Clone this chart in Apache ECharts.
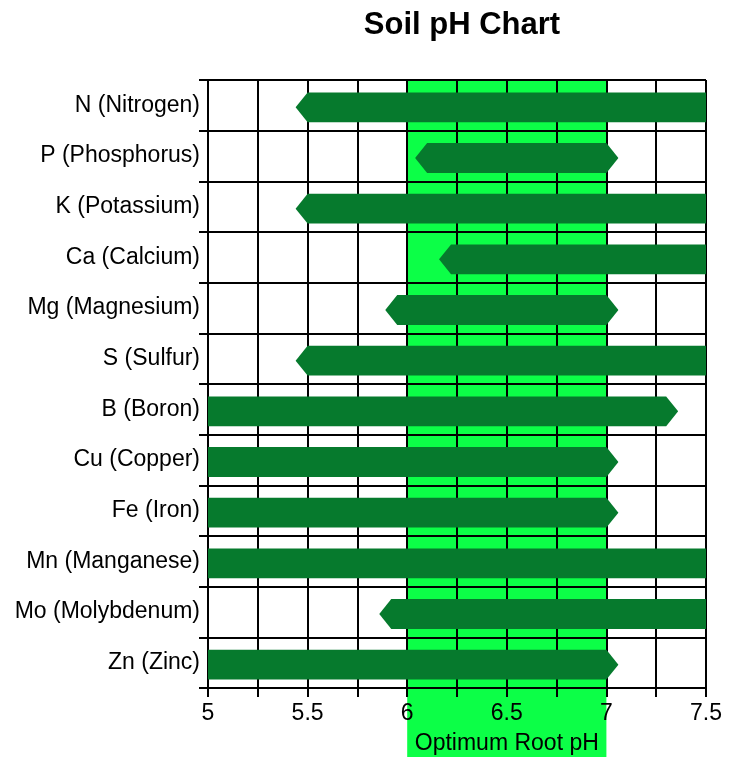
<!DOCTYPE html>
<html>
<head>
<meta charset="utf-8">
<script src="https://cdn.jsdelivr.net/npm/echarts@6/dist/echarts.min.js"></script>
<style>
  html, body { margin: 0; padding: 0; background: #fff; }
  #main { width: 741px; height: 757px; }
</style>
</head>
<body>
<div id="main"></div>
<script>
const nutrients = [
  'N (Nitrogen)', 'P (Phosphorus)', 'K (Potassium)', 'Ca (Calcium)',
  'Mg (Magnesium)', 'S (Sulfur)', 'B (Boron)', 'Cu (Copper)',
  'Fe (Iron)', 'Mn (Manganese)', 'Mo (Molybdenum)', 'Zn (Zinc)'
];
// pH range where each nutrient is available (values past the axis get cut off)
const rangeStart = [5.5, 6.1, 5.5, 6.22, 5.95, 5.5, 4.5, 4.5, 4.5, 4.5, 5.92, 4.5];
const rangeEnd = [8, 7.0, 8, 8, 7.0, 8, 7.3, 7.0, 7.0, 8, 8, 7.0];
const optimumRange = [6, 7];

const FONT = "'Liberation Sans', Arial, sans-serif";
const BAR_GREEN = '#067a2d';
const BAND_GREEN = '#0cff47';

const main = document.getElementById('main');
let myChart = echarts.init(main);

const seriesData = nutrients.map((name, i) => [rangeStart[i], rangeEnd[i], i]);

function renderArrow(params, api) {
  const cat = api.value(2);
  const p0 = api.coord([api.value(0), cat]);
  const p1 = api.coord([api.value(1), cat]);
  const h = api.size([0, 1])[1] * 0.59;
  const tip = 12;
  const y = p0[1] + 2;
  return {
    type: 'polygon',
    shape: {
      points: [
        [p0[0], y - h / 2],
        [p1[0], y - h / 2],
        [p1[0] + tip, y],
        [p1[0], y + h / 2],
        [p0[0], y + h / 2],
        [p0[0] - tip, y]
      ]
    },
    style: { fill: BAR_GREEN }
  };
}

const option = {
  animation: false,
  title: {
    text: 'Soil pH Chart',
    left: 457,
    top: 5,
    textAlign: 'center',
    textStyle: { fontFamily: FONT, fontSize: 31, fontWeight: 'bold', color: '#000' }
  },
  grid: { left: 208, right: 35, top: 80, bottom: 69 },
  xAxis: {
    type: 'value',
    min: 5,
    max: 7.5,
    interval: 0.25,
    axisLine: { show: true, lineStyle: { color: '#000', width: 2 } },
    axisTick: { show: true, length: 9, lineStyle: { color: '#000', width: 2 } },
    splitLine: { show: true, lineStyle: { color: '#000', width: 2 } },
    axisLabel: {
      margin: 14,
      fontFamily: FONT,
      fontSize: 23,
      color: '#000',
      showMinLabel: true,
      showMaxLabel: true,
      formatter: function (v) {
        return Math.round(v * 100) % 50 === 0 ? String(v) : '';
      }
    }
  },
  yAxis: {
    type: 'category',
    inverse: true,
    data: nutrients,
    axisLine: { show: true, lineStyle: { color: '#000', width: 2 } },
    axisTick: { show: true, length: 9, lineStyle: { color: '#000', width: 2 } },
    splitLine: { show: true, lineStyle: { color: '#000', width: 2 } },
    axisLabel: { margin: 8, padding: [6, 0, 0, 0], fontFamily: FONT, fontSize: 23, color: '#000' }
  },
  series: [
    {
      type: 'custom',
      clip: true,
      renderItem: renderArrow,
      encode: { x: [0, 1], y: 2 },
      data: seriesData,
      z: 3
    }
  ]
};

myChart.setOption(option);

// optimum band runs from the top of the grid down past the axis labels
const x6 = myChart.convertToPixel({ xAxisIndex: 0 }, optimumRange[0]);
const x7 = myChart.convertToPixel({ xAxisIndex: 0 }, optimumRange[1]);
myChart.setOption({
  graphic: [
    {
      type: 'rect',
      z: -1,
      shape: { x: x6, y: 80, width: x7 - x6, height: 757 - 80 },
      style: { fill: BAND_GREEN }
    },
    {
      type: 'text',
      z: 5,
      style: {
        text: 'Optimum Root pH',
        x: (x6 + x7) / 2,
        y: 744,
        align: 'center',
        verticalAlign: 'middle',
        font: '23px ' + FONT,
        fill: '#000'
      }
    }
  ]
});
</script>
</body>
</html>
